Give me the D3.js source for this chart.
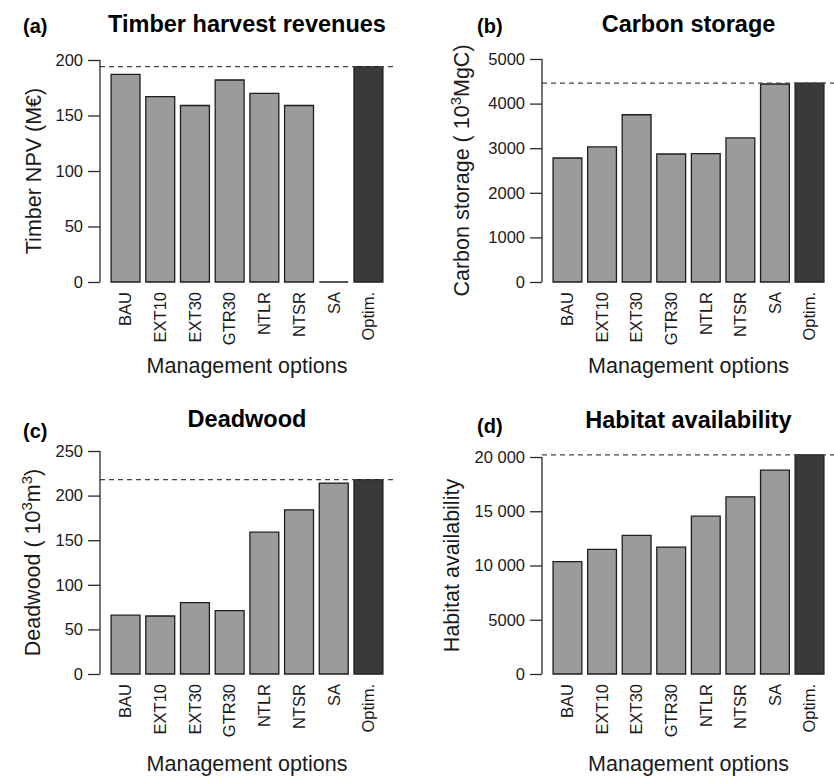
<!DOCTYPE html>
<html>
<head>
<meta charset="utf-8">
<script src="https://cdn.jsdelivr.net/npm/d3@7"></script>
<style>
  html, body { margin: 0; padding: 0; background: #fff; }
  svg { display: block; font-family: "Liberation Sans", Arial, sans-serif; }
</style>
</head>
<body>
<svg id="chart" width="834" height="776"></svg>
<script>
// ---------------- data ----------------
const categories = ["BAU", "EXT10", "EXT30", "GTR30", "NTLR", "NTSR", "SA", "Optim."];
const timberNPV = [187, 167, 159, 182, 170, 159, 0, 194];
const carbonStorage = [2780, 3030, 3750, 2870, 2880, 3230, 4440, 4460];
const deadwood = [66, 65, 80, 71, 159, 184, 214, 218];
const habitat = [10350, 11480, 12770, 11700, 14550, 16330, 18790, 20200];

const timberTicks = [0, 50, 100, 150, 200];
const carbonTicks = [0, 1000, 2000, 3000, 4000, 5000];
const deadwoodTicks = [0, 50, 100, 150, 200, 250];
const habitatTicks = [0, 5000, 10000, 15000, 20000];
const habitatTickLabels = ["0", "5000", "10 000", "15 000", "20 000"];

const panelLetters = ["(a)", "(b)", "(c)", "(d)"];
const panelTitles = ["Timber harvest revenues", "Carbon storage", "Deadwood", "Habitat availability"];
const xTitle = "Management options";

// ---------------- layout ----------------
const svg = d3.select("#chart");
const TEXT = "#1a1a1a";
const AX = "#2a2a2a";
const BAR = "#9b9b9b";
const OPT = "#3a3a3a";

const panels = [
  { values: timberNPV, ticks: timberTicks, tickLabels: timberTicks.map(String),
    ylab: [{t: "Timber NPV (M\u20ac)"}],
    left: 100, right: 394, y0: 282, y1: 60,
    letterX: 23, letterY: 33, titleY: 32, ylabX: 41, xTitleY: 373 },
  { values: carbonStorage, ticks: carbonTicks, tickLabels: carbonTicks.map(String),
    ylab: [{t: "Carbon storage ( 10"}, {t: "3", sup: true}, {t: "MgC)"}],
    left: 542, right: 835, y0: 282, y1: 59,
    letterX: 477, letterY: 33, titleY: 32, ylabX: 469, xTitleY: 373 },
  { values: deadwood, ticks: deadwoodTicks, tickLabels: deadwoodTicks.map(String),
    ylab: [{t: "Deadwood ( 10"}, {t: "3", sup: true}, {t: "m"}, {t: "3", sup: true}, {t: ")"}],
    left: 100, right: 394, y0: 674, y1: 451,
    letterX: 23, letterY: 438, titleY: 427, ylabX: 40, xTitleY: 771 },
  { values: habitat, ticks: habitatTicks, tickLabels: habitatTickLabels,
    ylab: [{t: "Habitat availability"}],
    left: 542, right: 835, y0: 674, y1: 457,
    letterX: 477, letterY: 433, titleY: 428, ylabX: 459, xTitleY: 771 }
];

panels.forEach((p, i) => {
  const g = svg.append("g");
  const x = d3.scaleBand().domain(categories)
    .range([p.left, p.right]).paddingInner(1/6).paddingOuter(0.32);
  const ymax = p.ticks[p.ticks.length - 1];
  const y = d3.scaleLinear().domain([0, ymax]).range([p.y0, p.y1]);

  // bars (paths so that zero-height bars still show an outline)
  g.selectAll("path.bar").data(p.values).join("path")
    .attr("class", "bar")
    .attr("d", (v, j) => {
      const xl = x(categories[j]), xr = xl + x.bandwidth();
      return `M${xl},${y(0)}V${y(v)}H${xr}V${y(0)}Z`;
    })
    .attr("fill", (v, j) => j === categories.length - 1 ? OPT : BAR)
    .attr("stroke", "#1e1e1e")
    .attr("stroke-width", 1.3);

  // dashed reference line at the maximum (optimised) value
  const best = d3.max(p.values);
  g.append("line")
    .attr("x1", p.left).attr("x2", p.right)
    .attr("y1", y(best)).attr("y2", y(best))
    .attr("stroke", "#444").attr("stroke-width", 1.3)
    .attr("stroke-dasharray", "5,4");

  // y axis (R-style: line spans tick range only)
  const yAxis = d3.axisLeft(y).tickValues(p.ticks)
    .tickFormat((d, k) => p.tickLabels[k]).tickSize(12).tickPadding(5);
  const ya = g.append("g").attr("transform", `translate(${p.left},0)`).call(yAxis);
  ya.select(".domain").attr("d", `M0,${y(0)}V${y(ymax)}`).attr("stroke", AX).attr("stroke-width", 1.3);
  ya.selectAll(".tick line").attr("stroke", AX).attr("stroke-width", 1.3);
  ya.selectAll(".tick text").attr("fill", TEXT).style("font-size", "16.5px")
    .style("font-family", '"Liberation Sans", Arial, sans-serif');

  // category labels (rotated)
  g.selectAll("text.cat").data(categories).join("text")
    .attr("class", "cat")
    .attr("transform", c => `translate(${x(c) + x.bandwidth()/2},${p.y0 + 10}) rotate(-90)`)
    .attr("text-anchor", "end").attr("dy", "0.35em")
    .attr("fill", TEXT).style("font-size", "16.5px")
    .text(c => c);

  // titles
  const cx = (p.left + p.right) / 2;
  g.append("text").attr("x", cx).attr("y", p.titleY)
    .attr("text-anchor", "middle").attr("fill", "#000")
    .style("font-size", "23.5px").style("font-weight", "bold")
    .text(panelTitles[i]);
  g.append("text").attr("x", p.letterX).attr("y", p.letterY)
    .attr("fill", "#000").style("font-size", "20px").style("font-weight", "bold")
    .text(panelLetters[i]);

  // x title
  g.append("text").attr("x", cx).attr("y", p.xTitleY)
    .attr("text-anchor", "middle").attr("fill", TEXT).style("font-size", "21.5px")
    .text(xTitle);

  // y title
  const yt = g.append("text")
    .attr("transform", `translate(${p.ylabX},${(p.y0 + p.y1) / 2}) rotate(-90)`)
    .attr("text-anchor", "middle").attr("fill", TEXT).style("font-size", "21.5px");
  p.ylab.forEach(part => {
    const ts = yt.append("tspan").text(part.t);
    if (part.sup) ts.attr("baseline-shift", "super").style("font-size", "15px");
  });
});
</script>
</body>
</html>
